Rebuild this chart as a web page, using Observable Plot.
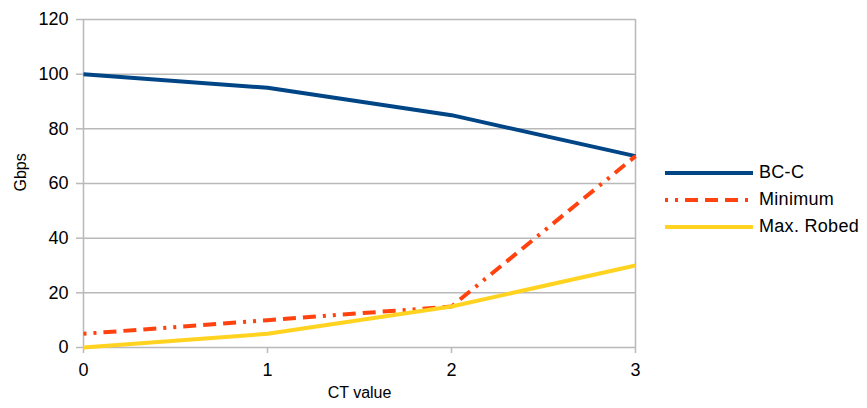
<!DOCTYPE html>
<html>
<head>
<meta charset="utf-8">
<script src="https://cdn.jsdelivr.net/npm/d3@7"></script>
<script src="https://cdn.jsdelivr.net/npm/@observablehq/plot@0.6"></script>
<style>
  html, body { margin: 0; padding: 0; background: #fff; }
  #wrap { position: relative; width: 867px; height: 408px; font-family: "Liberation Sans", Arial, sans-serif; }
  #legend { position: absolute; left: 665px; top: 159px; font-size: 18px; letter-spacing: 0.3px; color: #000; }
  .row { display: flex; align-items: center; height: 27px; }
  .row svg { margin-right: 6px; }
</style>
</head>
<body>
<div id="wrap"></div>
<script>
const ctValues = [0, 1, 2, 3];
const bcC = [100, 95, 85, 70];
const minimum = [5, 10, 15, 70];
const maxRobed = [0, 5, 15, 30];
const yTicks = [0, 20, 40, 60, 80, 100, 120];
const seriesNames = ["BC-C", "Minimum", "Max. Robed"];
const seriesColors = ["#004586", "#ff420e", "#ffd320"];
const seriesDash = [null, "3,7,3,7,13,7,13,7,13,7", null];
const seriesValues = [bcC, minimum, maxRobed];

const grid = "#b9b9b9";

const lineMarks = seriesValues.map((vals, i) =>
  Plot.line(ctValues.map((x, j) => ({x, y: vals[j]})), {
    x: "x", y: "y",
    stroke: seriesColors[i],
    strokeWidth: 4,
    strokeDasharray: seriesDash[i] || undefined,
    strokeLinecap: "butt",
    strokeLinejoin: "round"
  })
);

const plot = Plot.plot({
  width: 867,
  height: 408,
  marginLeft: 83,
  marginRight: 232,
  marginTop: 19,
  marginBottom: 61,
  style: { fontFamily: "'Liberation Sans', Arial, sans-serif", fontSize: "18px", color: "#000", background: "#fff" },
  x: { domain: [0, 3] },
  y: { domain: [0, 120] },
  marks: [
    Plot.ruleY(yTicks, { stroke: grid, strokeWidth: 1.5, strokeOpacity: 1 }),
    Plot.ruleX([0, 3], { stroke: grid, strokeWidth: 1.5 }),
    Plot.axisY(yTicks, { tickSize: 7, tickPadding: 8, stroke: grid, strokeWidth: 1.5, label: null, fill: "#000" }),
    Plot.axisX(ctValues, { tickSize: 6, tickPadding: 10, stroke: grid, strokeWidth: 1.5, label: null, fill: "#000", tickFormat: d3.format("d") }),
    Plot.text(["CT value"], { frameAnchor: "bottom", dy: 50, fontSize: 16, fill: "#000" }),
    Plot.text(["Gbps"], { frameAnchor: "left", dx: -63, dy: 8, rotate: -90, fontSize: 16, fill: "#000" }),
    ...lineMarks
  ]
});

const wrap = document.getElementById("wrap");
wrap.appendChild(plot);

const legend = document.createElement("div");
legend.id = "legend";
seriesNames.forEach((name, i) => {
  const row = document.createElement("div");
  row.className = "row";
  const svg = d3.create("svg").attr("width", 88).attr("height", 10);
  svg.append("line")
    .attr("x1", 0).attr("x2", 88).attr("y1", 5).attr("y2", 5)
    .attr("stroke", seriesColors[i]).attr("stroke-width", 4)
    .attr("stroke-dasharray", seriesDash[i]);
  row.appendChild(svg.node());
  const span = document.createElement("span");
  span.textContent = name;
  row.appendChild(span);
  legend.appendChild(row);
});
wrap.appendChild(legend);
</script>
</body>
</html>
